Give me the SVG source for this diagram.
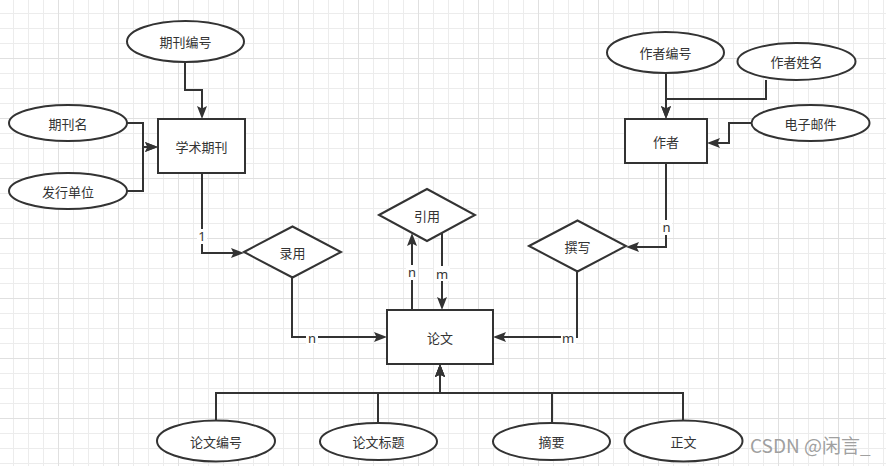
<svg xmlns="http://www.w3.org/2000/svg" width="886" height="466" viewBox="0 0 886 466">
<defs>
<pattern id="gmin" width="15" height="15" patternUnits="userSpaceOnUse" x="13" y="13">
<rect x="0" y="0" width="15" height="1" fill="#ececec"/>
<rect x="0" y="0" width="1" height="15" fill="#ececec"/>
</pattern>
<pattern id="gmaj" width="60" height="60" patternUnits="userSpaceOnUse" x="58" y="58">
<rect x="0" y="0" width="60" height="1" fill="#e0e0e0"/>
<rect x="0" y="0" width="1" height="60" fill="#e0e0e0"/>
</pattern>
<marker id="arr" markerWidth="14" markerHeight="10" refX="9" refY="5" orient="auto" markerUnits="userSpaceOnUse">
<path d="M0,0 L13,5 L0,10 L2.5,5 z" fill="#333"/>
</marker>
<style>
.shape{fill:#fff;stroke:#333;stroke-width:2}
.t{font-family:"Noto Sans CJK SC","Noto Sans",sans-serif;font-size:13px;fill:#333;text-anchor:middle;dominant-baseline:central}
.e{fill:none;stroke:#333;stroke-width:2}
.a{marker-end:url(#arr)}
.lb{fill:#fff}
.lt{font-family:"Noto Sans","Liberation Sans",sans-serif;font-size:13px;fill:#333;text-anchor:middle;dominant-baseline:central}
</style>
</defs>
<rect width="886" height="466" fill="#fff"/>
<rect width="886" height="466" fill="url(#gmin)"/>
<rect width="886" height="466" fill="url(#gmaj)"/>

<g id="connectors">
<path class="e a" d="M185,62 V90 H202 V115"/>
<path class="e a" d="M127,123 H143 V147 H154"/>
<path class="e a" d="M127,191 H143 V147 H154"/>
<path class="e a" d="M666,73 V115"/>
<path class="e a" d="M766,80 V99 H666 V115"/>
<path class="e a" d="M751,123 H729 V143 H711"/>
<path class="e a" d="M202,173 V253 H240"/>
<path class="e a" d="M292,277 V337 H383"/>
<path class="e a" d="M666,163 V247 H630"/>
<path class="e a" d="M577,271 V337 H497"/>
<path class="e a" d="M412,310 V237"/>
<path class="e a" d="M442,233 V306"/>
<path class="e a" d="M216,420 V393 H440 V368"/>
<path class="e a" d="M378,423 V393 H440 V368"/>
<path class="e a" d="M552,423 V393 H440 V368"/>
<path class="e a" d="M683,420 V393 H440 V368"/>
<g id="edge-labels">
<rect class="lb" x="197" y="229" width="10" height="15"/><text class="lt" x="202" y="236">1</text>
<rect class="lb" x="306" y="330" width="12" height="14"/><text class="lt" x="312" y="338">n</text>
<rect class="lb" x="661" y="220" width="11" height="15"/><text class="lt" x="666.5" y="227">n</text>
<rect class="lb" x="561" y="330" width="15" height="14"/><text class="lt" x="568" y="338">m</text>
<rect class="lb" x="406" y="265" width="12" height="15"/><text class="lt" x="412" y="272">n</text>
<rect class="lb" x="434" y="266" width="16" height="15"/><text class="lt" x="442" y="274">m</text>
</g>
</g>

<g id="n-qikanbianhao"><ellipse class="shape" cx="185.5" cy="41.5" rx="58.5" ry="20.5"/><text class="t" x="185.5" y="41.5">期刊编号</text></g>
<g id="n-xueshuqikan"><rect class="shape" x="158" y="119" width="87" height="54"/><text class="t" x="201.5" y="146">学术期刊</text></g>
<g id="n-qikanming"><ellipse class="shape" cx="68" cy="123" rx="59" ry="18"/><text class="t" x="68" y="123">期刊名</text></g>
<g id="n-faxingdanwei"><ellipse class="shape" cx="68" cy="191" rx="59" ry="18"/><text class="t" x="68" y="191">发行单位</text></g>
<g id="n-zuozhebianhao"><ellipse class="shape" cx="665.5" cy="52.5" rx="58.5" ry="20.5"/><text class="t" x="665.5" y="52.5">作者编号</text></g>
<g id="n-zuozhexingming"><ellipse class="shape" cx="796.5" cy="61.5" rx="59" ry="18.5"/><text class="t" x="796.5" y="61.5">作者姓名</text></g>
<g id="n-dianziyoujian"><ellipse class="shape" cx="810.5" cy="123" rx="59" ry="18"/><text class="t" x="810.5" y="123">电子邮件</text></g>
<g id="n-zuozhe"><rect class="shape" x="625" y="119" width="82" height="44"/><text class="t" x="666" y="141">作者</text></g>
<g id="n-luyong"><polygon class="shape" points="244,252 292.5,226.5 341,252 292.5,277.5"/><text class="t" x="292.5" y="252">录用</text></g>
<g id="n-yinyong"><polygon class="shape" points="379,215 427,189 475,215 427,241"/><text class="t" x="427" y="215">引用</text></g>
<g id="n-zhuanxie"><polygon class="shape" points="529,246 577.5,220.5 626,246 577.5,271.5"/><text class="t" x="577.5" y="246">撰写</text></g>
<g id="n-lunwen"><rect class="shape" x="387" y="310" width="106" height="54"/><text class="t" x="440" y="337">论文</text></g>
<g id="n-lunwenbianhao"><ellipse class="shape" cx="216" cy="441" rx="59" ry="20.5"/><text class="t" x="216" y="441">论文编号</text></g>
<g id="n-lunwenbiaoti"><ellipse class="shape" cx="378.5" cy="441.5" rx="58.5" ry="18.5"/><text class="t" x="378.5" y="441.5">论文标题</text></g>
<g id="n-zhaiyao"><ellipse class="shape" cx="551.5" cy="441.5" rx="58.5" ry="18.5"/><text class="t" x="551.5" y="441.5">摘要</text></g>
<g id="n-zhengwen"><ellipse class="shape" cx="683.5" cy="441" rx="59" ry="20.5"/><text class="t" x="683.5" y="441">正文</text></g>

<text x="750" y="453" font-family="Noto Sans CJK SC, Noto Sans, sans-serif" font-size="19" fill="#a0a0a0">CSDN @闲言_</text>
</svg>
